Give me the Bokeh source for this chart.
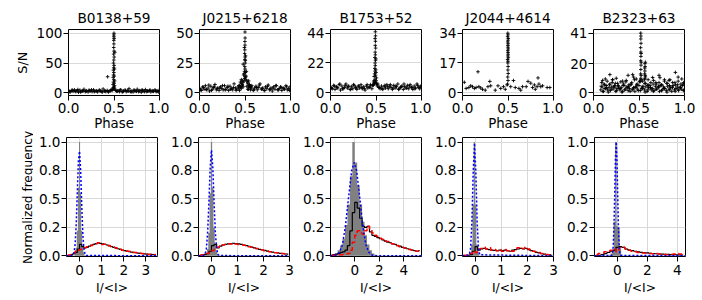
import math
from bokeh.plotting import figure
from bokeh.layouts import row, column
from bokeh.models import Range1d, Label, PrintfTickFormatter
from bokeh.embed import file_html
from bokeh.resources import INLINE

FONT = "DejaVu Sans"
GRID = "#d9d9d9"

names = ["B0138+59", "J0215+6218", "B1753+52", "J2044+4614", "B2323+63"]

# ---------------- top row: S/N versus phase ----------------
sn_ticks = [[0, 50, 100], [0, 25, 50], [0, 22, 44], [0, 17, 34], [0, 20, 41]]
sn_ranges = [(-4.5, 106.2), (-2.25, 53.1), (-1.98, 46.7), (-1.53, 36.1), (-1.85, 43.5)]
phase_ticks = [0.0, 0.5, 1.0]

base_phase = [0.005, 0.02, 0.035, 0.05, 0.065, 0.08, 0.095, 0.11, 0.125, 0.14, 0.155, 0.17, 0.185, 0.2, 0.215,
              0.23, 0.245, 0.26, 0.275, 0.29, 0.305, 0.32, 0.335, 0.35, 0.365, 0.38, 0.395, 0.41, 0.425, 0.44,
              0.455, 0.47, 0.48, 0.52, 0.53, 0.545, 0.56, 0.575, 0.59, 0.605, 0.62, 0.635, 0.65, 0.665, 0.68,
              0.695, 0.71, 0.725, 0.74, 0.755, 0.77, 0.785, 0.8, 0.815, 0.83, 0.845, 0.86, 0.875, 0.89, 0.905,
              0.92, 0.935, 0.95, 0.965, 0.98, 0.995]
mid_phase = [0.0125, 0.0425, 0.0725, 0.1025, 0.1325, 0.1625, 0.1925, 0.2225, 0.2525, 0.2825, 0.3125, 0.3425,
             0.3725, 0.4025, 0.4325, 0.4625, 0.5375, 0.5675, 0.5975, 0.6275, 0.6575, 0.6875, 0.7175, 0.7475,
             0.7775, 0.8075, 0.8375, 0.8675, 0.8975, 0.9275, 0.9575, 0.9875]

b0138_base_sn = [3.0, 1.5, 4.0, 2.5, 5.0, 2.0, 3.5, 1.0, 4.5, 2.5, 3.0, 6.0, 2.0, 3.5, 1.5, 4.0, 3.0, 2.0, 5.0, 2.5,
                 3.5, 1.5, 4.0, 3.0, 2.0, 6.5, 3.0, 2.0, 4.0, 1.5, 3.0, 5.0, 4.0,
                 4.0, 2.5, 3.5, 2.0, 5.0, 1.5, 3.0, 4.5, 2.0, 3.5, 7.0, 2.5, 3.0, 1.5, 4.0, 3.0, 6.0, 2.0, 3.5,
                 1.0, 4.0, 2.5, 5.5, 2.0, 3.0, 4.0, 1.5, 3.5, 2.5, 5.0, 2.0, 3.0, 4.0]
b0138_mid_sn = [2.0, 4.5, 3.0, 5.5, 1.5, 3.5, 2.5, 4.0, 5.0, 2.0, 3.0, 4.5, 1.5, 3.5, 2.5, 4.0,
                3.0, 5.0, 2.0, 4.0, 3.0, 1.5, 4.5, 2.5, 3.5, 5.0, 2.0, 3.0, 4.5, 2.5, 3.5, 1.5]
b0138_spike_ph = [0.488, 0.492, 0.496, 0.5, 0.504, 0.508, 0.49, 0.494, 0.498, 0.502, 0.506, 0.491, 0.495, 0.499,
                  0.503, 0.493, 0.497, 0.501, 0.505, 0.494, 0.498, 0.502, 0.496, 0.5, 0.497, 0.499, 0.498, 0.43,
                  0.509, 0.507, 0.499, 0.5, 0.498, 0.501]
b0138_spike_sn = [6, 9, 7, 10, 8, 6, 14, 18, 22, 16, 12, 26, 30, 34, 28, 38, 42, 46, 40, 50, 55, 60, 65, 70, 76,
                  82, 88, 27, 68, 20, 94, 100, 97, 91]

j0215_base_sn = [3.5, 2.0, 5.0, 3.0, 6.0, 2.5, 4.0, 1.5, 5.5, 3.0, 4.5, 7.0, 2.5, 4.0, 2.0, 5.0, 3.5, 2.5, 6.0, 3.0,
                 4.5, 2.0, 5.5, 3.5, 2.5, 7.5, 4.0, 3.0, 5.0, 2.0, 4.0, 6.0, 5.0,
                 5.5, 3.0, 4.5, 2.5, 6.0, 2.0, 4.0, 5.5, 2.5, 4.5, 7.5, 3.0, 4.0, 2.0, 5.0, 3.5, 6.5, 2.5, 4.0,
                 1.5, 5.0, 3.0, 6.0, 2.5, 3.5, 5.0, 2.0, 4.0, 3.0, 6.0, 2.5, 3.5, 5.0]
j0215_mid_sn = [2.5, 4.5, 3.0, 6.5, 2.0, 5.0, 3.5, 4.0, 6.0, 2.5, 5.5, 3.0, 4.5, 2.0, 6.0, 4.0,
                3.0, 5.0, 2.5, 4.5, 6.5, 3.5, 2.0, 5.5, 3.0, 4.0, 6.0, 2.5, 4.5, 3.5, 5.0, 2.0]
j0215_spike_ph = [0.43, 0.44, 0.45, 0.46, 0.47, 0.48, 0.52, 0.53, 0.54, 0.55, 0.56, 0.57, 0.45, 0.47, 0.53, 0.55,
                  0.46, 0.54,
                  0.49, 0.495, 0.5, 0.505, 0.51, 0.49, 0.495, 0.5, 0.505, 0.497, 0.502, 0.499, 0.501, 0.496,
                  0.503, 0.498, 0.5, 0.499, 0.501, 0.5, 0.48, 0.515, 0.485, 0.512, 0.494, 0.506]
j0215_spike_sn = [4, 6, 5, 8, 7, 9, 10, 8, 6, 7, 5, 4, 9, 10, 9, 6, 11, 10,
                  10, 12, 14, 13, 11, 16, 18, 20, 17, 22, 25, 28, 30, 33, 27, 36, 40, 43, 46, 51, 24, 18, 15,
                  14, 38, 31]

b1753_base_sn = [4.0, 3.0, 5.5, 2.5, 4.5, 3.5, 6.0, 2.0, 5.0, 3.0, 4.0, 6.5, 3.5, 5.0, 2.5, 4.5, 3.0, 5.5, 4.0, 2.5,
                 5.0, 3.5, 6.0, 3.0, 4.5, 2.0, 5.0, 3.5, 4.0, 6.0, 3.0, 5.5, 7.0,
                 6.5, 4.0, 3.0, 5.0, 2.5, 4.5, 3.5, 6.0, 3.0, 5.0, 4.0, 2.5, 5.5, 3.5, 4.5, 6.5, 3.0, 4.0, 5.0,
                 2.5, 4.5, 3.5, 5.5, 3.0, 6.0, 4.0, 2.5, 5.0, 3.5, 6.5, 4.0, 3.0, 5.0]
b1753_mid_sn = [3.5, 5.0, 4.0, 6.5, 3.0, 5.5, 4.5, 2.5, 6.0, 3.5, 5.0, 4.0, 3.0, 6.0, 4.5, 5.5,
                4.0, 3.0, 5.5, 4.5, 6.0, 3.5, 5.0, 2.5, 4.5, 6.5, 3.5, 5.0, 4.0, 3.0, 5.5, 4.5]
b1753_spike_ph = [0.47, 0.475, 0.48, 0.485, 0.49, 0.495, 0.5, 0.505, 0.51, 0.515, 0.48, 0.485, 0.49, 0.495, 0.5,
                  0.505, 0.487, 0.492, 0.497, 0.49, 0.495, 0.488, 0.493, 0.498, 0.491, 0.496, 0.492, 0.494, 0.49,
                  0.495, 0.493]
b1753_spike_sn = [6, 8, 9, 7, 10, 8, 9, 7, 6, 5, 12, 14, 16, 13, 15, 11, 18, 20, 17, 22, 24, 26, 28, 25, 30, 33,
                  35, 38, 40, 42, 45]

j2044_ph = [0.02, 0.04, 0.07, 0.09, 0.11, 0.13, 0.15, 0.17, 0.18, 0.20, 0.22, 0.25, 0.28, 0.30, 0.31, 0.36, 0.39,
            0.42, 0.45, 0.47, 0.49, 0.53, 0.56, 0.58, 0.62, 0.64, 0.66, 0.70, 0.72, 0.75, 0.77, 0.79, 0.80, 0.82,
            0.83, 0.84, 0.86, 0.88, 0.93, 0.96]
j2044_sn = [6.0, 2.5, 3.0, 4.0, 3.5, 2.5, 3.0, 12.0, 3.5, 2.8, 2.0, 1.5, 3.5, 6.5, 4.0, 1.5, 4.0, 2.5, 3.5, 2.0,
            4.5, 3.5, 7.0, 3.0, 2.5, 1.5, 3.5, 3.5, 6.5, 5.5, 3.0, 4.5, 2.0, 3.5, 8.5, 5.0, 3.5, 4.0, 3.0, 3.0]
j2044_spike_ph = [0.495, 0.5, 0.497, 0.502, 0.499, 0.501, 0.498, 0.5, 0.496, 0.503, 0.499, 0.501, 0.5, 0.498,
                  0.502, 0.5, 0.499, 0.501, 0.497, 0.5, 0.503, 0.496, 0.5, 0.498]
j2044_spike_sn = [5, 7, 9, 11, 13, 15, 17, 18, 19, 20, 21, 22, 23, 24, 25, 26, 27, 28, 29, 30, 31, 32, 33, 34]

b2323_ph_a = [0.08, 0.095, 0.11, 0.125, 0.14, 0.155, 0.17, 0.185, 0.2, 0.215, 0.23, 0.245, 0.26, 0.275, 0.29,
              0.305, 0.32, 0.335, 0.35, 0.365, 0.38, 0.395, 0.41, 0.425, 0.44, 0.455, 0.47, 0.485, 0.5, 0.515,
              0.53, 0.545, 0.56, 0.575, 0.59, 0.605, 0.62, 0.635, 0.65, 0.665, 0.68, 0.695, 0.71, 0.725, 0.74,
              0.755, 0.77, 0.785, 0.8, 0.815, 0.83, 0.845, 0.86, 0.875, 0.89, 0.905, 0.92, 0.935, 0.95, 0.965,
              0.98, 0.995]
b2323_sn_a = [2, 4, 1, 3, 5, 2, 3.5, 1.5, 4, 2.5, 5, 1, 3, 4.5, 2, 3.5, 1, 5, 2.5, 4, 1.5, 3, 5.5, 2, 3.5, 1, 4,
              2.5, 5, 1.5, 3, 4.5, 2, 4, 1, 3.5, 5, 2, 3, 1.5, 4.5, 2.5, 3.5, 1, 5, 2, 4, 3, 1.5, 4.5, 2.5, 3.5,
              1, 5, 2, 3, 4, 1.5, 3.5, 2.5, 5, 2]
b2323_ph_b = [0.09, 0.12, 0.15, 0.18, 0.21, 0.24, 0.27, 0.3, 0.33, 0.36, 0.39, 0.42, 0.45, 0.48, 0.51, 0.54, 0.57,
              0.6, 0.63, 0.66, 0.69, 0.72, 0.75, 0.78, 0.81, 0.84, 0.87, 0.9, 0.93, 0.96, 0.99]
b2323_sn_b = [7, 5.5, 8, 6, 9, 6.5, 5, 7.5, 6, 8.5, 5.5, 7, 9, 6, 7.5, 8, 6.5, 5.5, 7, 8.5, 6, 7, 5.5, 8, 6.5, 9,
              7, 5.5, 8, 6, 7]
b2323_ph_c = [0.1025, 0.1325, 0.1625, 0.1925, 0.2225, 0.2525, 0.2825, 0.3125, 0.3425, 0.3725, 0.4025, 0.4325,
              0.4625, 0.4925, 0.5375, 0.5675, 0.5975, 0.6275, 0.6575, 0.6875, 0.7175, 0.7475, 0.7775, 0.8075,
              0.8375, 0.8675, 0.8975, 0.9275, 0.9575, 0.9875]
b2323_sn_c = [1, 3, 0.5, 2.5, 4, 1.5, 3, 0.5, 2, 3.5, 1, 2.5, 4, 1.5, 3, 0.5, 2, 3.5, 1, 2.5, 4, 1.5, 3, 0.5, 2,
              3.5, 1, 2.5, 4, 1.5]
b2323_ph_d = [0.085, 0.115, 0.145, 0.175, 0.205, 0.235, 0.265, 0.295, 0.325, 0.355, 0.385, 0.415, 0.445, 0.475,
              0.505, 0.535, 0.565, 0.595, 0.625, 0.655, 0.685, 0.715, 0.745, 0.775, 0.805, 0.835, 0.865, 0.895,
              0.925, 0.955, 0.985]
b2323_sn_d = [4.5, 6, 3.5, 5.5, 7, 4, 6.5, 3, 5, 7.5, 4.5, 6, 3.5, 5.5, 8, 4, 6.5, 5, 3.5, 6, 7, 4.5, 5.5, 3, 6.5,
              5, 4, 7, 5.5, 3.5, 6]
b2323_out_ph = [0.1, 0.13, 0.18, 0.21, 0.25, 0.32, 0.38, 0.43, 0.44, 0.47, 0.6, 0.65, 0.72, 0.73, 0.78, 0.83, 0.9,
                0.93, 0.97]
b2323_out_sn = [8.5, 9.5, 12.5, 9, 10, 8, 12, 12.5, 10.8, 9.5, 9, 10.5, 12, 10.4, 9, 8.5, 14, 10.8, 9.5]
b2323_spike_ph = [0.515, 0.52, 0.525, 0.518, 0.523, 0.52, 0.522, 0.519, 0.524, 0.521, 0.52, 0.523, 0.518, 0.522,
                  0.52, 0.521, 0.519, 0.56, 0.565, 0.57, 0.562, 0.568, 0.565, 0.563, 0.567, 0.565, 0.57]
b2323_spike_sn = [8, 10, 9, 13, 12, 16, 19, 22, 21, 25, 28, 27, 31, 34, 37, 39, 41, 9, 10, 11, 13, 12, 15, 17,
                  18, 20, 21]

top_series = [
    [(base_phase, b0138_base_sn), (mid_phase, b0138_mid_sn), (b0138_spike_ph, b0138_spike_sn)],
    [(base_phase, j0215_base_sn), (mid_phase, j0215_mid_sn), (j0215_spike_ph, j0215_spike_sn)],
    [(base_phase, b1753_base_sn), (mid_phase, b1753_mid_sn), (b1753_spike_ph, b1753_spike_sn)],
    [(j2044_ph, j2044_sn), (j2044_spike_ph, j2044_spike_sn)],
    [(b2323_ph_a, b2323_sn_a), (b2323_ph_b, b2323_sn_b), (b2323_ph_c, b2323_sn_c), (b2323_ph_d, b2323_sn_d),
     (b2323_out_ph, b2323_out_sn), (b2323_spike_ph, b2323_spike_sn)],
]

# ---------------- bottom row: intensity distributions ----------------
freq_ticks = [0.0, 0.25, 0.5, 0.75, 1.0]
freq_labels = {0.0: "0.0", 0.25: "0.2", 0.5: "0.5", 0.75: "0.8", 1.0: "1.0"}
ratio_ticks = [[0, 1, 2, 3], [0, 1, 2, 3], [0, 2, 4], [0, 1, 2, 3], [0, 2, 4]]
ratio_ranges = [(-0.59, 3.53), (-0.5, 3.0), (-1.98, 5.45), (-0.48, 3.0), (-1.53, 4.55)]
freq_range = (-0.006, 1.04)

# off-pulse histograms (grey): bin edges and normalised counts
off_edges = [
    [-0.225, -0.175, -0.125, -0.075, -0.025, 0.025, 0.075, 0.125, 0.175, 0.225],
    [-0.275, -0.225, -0.175, -0.125, -0.075, -0.025, 0.025, 0.075, 0.125, 0.175, 0.225, 0.275],
    [-1.8, -1.6, -1.4, -1.2, -1.0, -0.8, -0.6, -0.4, -0.2, 0.0, 0.2, 0.4, 0.6, 0.8, 1.0, 1.2, 1.4, 1.6, 1.8],
    [-0.2, -0.15, -0.1, -0.05, 0.0, 0.05, 0.1, 0.15],
    [-0.55, -0.45, -0.35, -0.25, -0.15, -0.05, 0.05, 0.15, 0.25],
]
off_counts = [
    [0.02, 0.07, 0.22, 0.6, 1.0, 0.55, 0.22, 0.09, 0.03],
    [0.01, 0.02, 0.06, 0.2, 0.55, 1.0, 0.6, 0.25, 0.1, 0.04, 0.01],
    [0.01, 0.02, 0.05, 0.09, 0.15, 0.27, 0.45, 0.7, 1.0, 0.82, 0.62, 0.45, 0.3, 0.18, 0.1, 0.05, 0.02, 0.01],
    [0.02, 0.1, 0.45, 1.0, 0.45, 0.1, 0.03],
    [0.01, 0.02, 0.05, 0.3, 1.0, 0.26, 0.25, 0.06],
]

# off-pulse fits (blue dotted)
off_fit_x = [
    [-0.59, -0.3, -0.25, -0.2, -0.15, -0.1, -0.05, 0.0, 0.05, 0.1, 0.15, 0.2, 0.25, 0.3, 3.53],
    [-0.5, -0.3, -0.25, -0.2, -0.15, -0.1, -0.05, 0.0, 0.05, 0.1, 0.15, 0.2, 0.25, 0.3, 3.0],
    [-1.98, -1.5, -1.25, -1.0, -0.75, -0.5, -0.25, -0.05, 0.15, 0.4, 0.65, 0.9, 1.15, 1.4, 1.7, 5.45],
    [-0.48, -0.22, -0.17, -0.12, -0.07, -0.02, 0.03, 0.08, 0.13, 0.18, 3.0],
    [-1.53, -0.38, -0.33, -0.28, -0.23, -0.18, -0.13, -0.08, -0.03, 0.02, 0.07, 0.12, 0.17, 0.22, 4.55],
]
off_fit_y = [
    [0, 0.003, 0.03, 0.1, 0.28, 0.56, 0.84, 0.92, 0.75, 0.44, 0.19, 0.06, 0.016, 0.003, 0],
    [0, 0.002, 0.012, 0.058, 0.2, 0.465, 0.78, 0.93, 0.78, 0.465, 0.2, 0.058, 0.012, 0.002, 0],
    [0, 0.007, 0.032, 0.1, 0.27, 0.52, 0.75, 0.82, 0.75, 0.52, 0.27, 0.1, 0.032, 0.007, 0.001, 0],
    [0, 0.009, 0.069, 0.3, 0.74, 0.99, 0.74, 0.3, 0.069, 0.009, 0],
    [0, 0.004, 0.021, 0.085, 0.25, 0.54, 0.86, 1.0, 0.86, 0.54, 0.25, 0.085, 0.021, 0.004, 0],
]

# on-pulse histograms (black steps) and fitted model (red dashed), bin centres
on_bins = [
    [-0.55, -0.45, -0.35, -0.25, -0.15, -0.05, 0.05, 0.15, 0.25, 0.35, 0.45, 0.55, 0.65, 0.75, 0.85, 0.95, 1.05,
     1.15, 1.25, 1.35, 1.45, 1.55, 1.65, 1.75, 1.85, 1.95, 2.05, 2.15, 2.25, 2.35, 2.45, 2.55, 2.65, 2.75, 2.85,
     2.95, 3.05, 3.15, 3.25, 3.35, 3.45],
    [-0.45, -0.35, -0.25, -0.15, -0.05, 0.05, 0.15, 0.25, 0.35, 0.45, 0.55, 0.65, 0.75, 0.85, 0.95, 1.05, 1.15,
     1.25, 1.35, 1.45, 1.55, 1.65, 1.75, 1.85, 1.95, 2.05, 2.15, 2.25, 2.35, 2.45, 2.55, 2.65, 2.75, 2.85, 2.95],
    [-1.9, -1.7, -1.5, -1.3, -1.1, -0.9, -0.7, -0.5, -0.3, -0.1, 0.1, 0.3, 0.5, 0.7, 0.9, 1.1, 1.3, 1.5, 1.7, 1.9,
     2.1, 2.3, 2.5, 2.7, 2.9, 3.1, 3.3, 3.5, 3.7, 3.9, 4.1, 4.3, 4.5, 4.7, 4.9, 5.1, 5.3],
    [-0.45, -0.35, -0.25, -0.15, -0.05, 0.05, 0.15, 0.25, 0.35, 0.45, 0.55, 0.65, 0.75, 0.85, 0.95, 1.05, 1.15,
     1.25, 1.35, 1.45, 1.55, 1.65, 1.75, 1.85, 1.95, 2.05, 2.15, 2.25, 2.35, 2.45, 2.55, 2.65, 2.75, 2.85, 2.95],
    [-1.4, -1.2, -1.0, -0.8, -0.6, -0.4, -0.2, 0.0, 0.2, 0.4, 0.6, 0.8, 1.0, 1.2, 1.4, 1.6, 1.8, 2.0, 2.2, 2.4,
     2.6, 2.8, 3.0, 3.2, 3.4, 3.6, 3.8, 4.0, 4.2, 4.4],
]
on_hist = [
    [0.003, 0.005, 0.01, 0.02, 0.03, 0.06, 0.1, 0.08, 0.07, 0.075, 0.085, 0.095, 0.1, 0.108, 0.113, 0.11, 0.105,
     0.1, 0.095, 0.088, 0.082, 0.075, 0.068, 0.062, 0.056, 0.05, 0.045, 0.041, 0.037, 0.033, 0.03, 0.027, 0.024,
     0.021, 0.019, 0.017, 0.015, 0.013, 0.012, 0.011, 0.01],
    [0.005, 0.008, 0.012, 0.02, 0.04, 0.09, 0.1, 0.07, 0.085, 0.095, 0.1, 0.105, 0.108, 0.11, 0.108, 0.105, 0.1,
     0.095, 0.09, 0.083, 0.076, 0.07, 0.063, 0.057, 0.052, 0.047, 0.042, 0.037, 0.033, 0.029, 0.025, 0.022, 0.019,
     0.016, 0.014],
    [0.005, 0.01, 0.015, 0.02, 0.03, 0.035, 0.05, 0.09, 0.22, 0.38, 0.47, 0.42, 0.33, 0.26, 0.25, 0.26, 0.21, 0.18,
     0.17, 0.16, 0.15, 0.14, 0.13, 0.12, 0.115, 0.105, 0.1, 0.09, 0.085, 0.075, 0.07, 0.062, 0.056, 0.05, 0.045,
     0.04, 0.045],
    [0.0, 0.003, 0.005, 0.01, 0.04, 0.08, 0.05, 0.06, 0.065, 0.06, 0.055, 0.05, 0.048, 0.045, 0.05, 0.045, 0.05,
     0.045, 0.04, 0.05, 0.055, 0.06, 0.065, 0.06, 0.065, 0.055, 0.045, 0.04, 0.03, 0.025, 0.02, 0.015, 0.01,
     0.008, 0.005],
    [0.003, 0.005, 0.01, 0.02, 0.03, 0.04, 0.05, 0.075, 0.08, 0.075, 0.06, 0.05, 0.045, 0.04, 0.035, 0.03, 0.028,
     0.025, 0.022, 0.02, 0.018, 0.016, 0.015, 0.013, 0.012, 0.011, 0.01, 0.009, 0.008, 0.007],
]
on_model = [
    [0.005, 0.008, 0.012, 0.025, 0.04, 0.05, 0.055, 0.06, 0.07, 0.08, 0.085, 0.09, 0.1, 0.105, 0.115, 0.11, 0.1,
     0.102, 0.09, 0.09, 0.08, 0.078, 0.07, 0.06, 0.058, 0.05, 0.047, 0.04, 0.04, 0.034, 0.03, 0.03, 0.025, 0.022,
     0.02, 0.018, 0.016, 0.012, 0.014, 0.01, 0.012],
    [0.004, 0.007, 0.01, 0.02, 0.03, 0.045, 0.06, 0.075, 0.09, 0.095, 0.1, 0.105, 0.103, 0.11, 0.104, 0.1, 0.1,
     0.092, 0.09, 0.08, 0.078, 0.068, 0.065, 0.056, 0.054, 0.045, 0.043, 0.036, 0.034, 0.028, 0.026, 0.021, 0.02,
     0.015, 0.015],
    [0.005, 0.005, 0.008, 0.01, 0.01, 0.012, 0.015, 0.02, 0.05, 0.12, 0.18, 0.22, 0.2, 0.19, 0.22, 0.26, 0.24, 0.2,
     0.18, 0.17, 0.155, 0.145, 0.13, 0.125, 0.11, 0.105, 0.095, 0.09, 0.08, 0.075, 0.068, 0.06, 0.055, 0.05,
     0.043, 0.04, 0.045],
    [0.002, 0.005, 0.01, 0.02, 0.04, 0.03, 0.06, 0.065, 0.075, 0.06, 0.07, 0.05, 0.055, 0.045, 0.055, 0.04, 0.055,
     0.045, 0.05, 0.04, 0.06, 0.07, 0.075, 0.065, 0.075, 0.06, 0.05, 0.04, 0.035, 0.03, 0.02, 0.02, 0.012, 0.01,
     0.006],
    [0.01, 0.02, 0.02, 0.035, 0.04, 0.05, 0.06, 0.035, 0.07, 0.075, 0.06, 0.05, 0.04, 0.035, 0.03, 0.025, 0.025,
     0.02, 0.02, 0.018, 0.02, 0.015, 0.015, 0.012, 0.01, 0.012, 0.015, 0.02, 0.015, 0.01],
]

# ---------------- layout ----------------
FRAME_W = 91
LABEL_W = 33
lefts = [33, 30, 30, 31, 30]
rights = [10, 10, 10, 10, 20]


def make_fig(L, R, T, B, fh, xr, yr):
    p = figure(frame_width=FRAME_W, frame_height=fh,
               x_range=Range1d(*xr), y_range=Range1d(*yr),
               min_border_left=L, min_border_right=R, min_border_top=T, min_border_bottom=B,
               output_backend="svg", toolbar_location=None, tools="")
    p.outline_line_color = "black"
    p.outline_line_width = 1
    p.outline_line_alpha = 1
    p.background_fill_color = "white"
    p.border_fill_color = "white"
    for ax in (p.xaxis[0], p.yaxis[0]):
        ax.axis_line_color = None
        ax.major_tick_line_color = "black"
        ax.major_tick_line_width = 1
        ax.major_tick_out = 5
        ax.major_tick_in = 0
        ax.minor_tick_line_color = None
        ax.major_label_text_font = FONT
        ax.major_label_text_font_size = "13.6px"
        ax.major_label_text_color = "black"
        ax.axis_label_text_font = FONT
        ax.axis_label_text_font_style = "normal"
        ax.axis_label_text_color = "black"
    p.yaxis.major_label_standoff = 1
    p.xgrid.grid_line_color = GRID
    p.ygrid.grid_line_color = GRID
    return p


top_figs = []
for i in range(5):
    p = make_fig(lefts[i], rights[i], 29, 37, 66, (0.0, 1.0), sn_ranges[i])
    p.title.text = names[i]
    p.title.align = "center"
    p.title.text_font = FONT
    p.title.text_font_size = "13.7px"
    p.title.text_font_style = "normal"
    p.title.text_color = "black"
    p.title.standoff = 8
    p.xaxis.ticker = phase_ticks
    p.xaxis.formatter = PrintfTickFormatter(format="%.1f")
    p.xaxis.major_label_standoff = 2
    p.xaxis.axis_label = "Phase"
    p.xaxis.axis_label_text_font_size = "13.3px"
    p.xaxis.axis_label_standoff = 0
    p.yaxis.ticker = sn_ticks[i]
    p.xgrid.grid_line_color = None
    for ph, sn in top_series[i]:
        p.scatter(ph, sn, marker="cross", size=3.6, line_color="black", line_width=0.9)
    top_figs.append(p)

bottom_figs = []
for i in range(5):
    p = make_fig(lefts[i], rights[i], 4, 44, 119, ratio_ranges[i], freq_range)
    p.xaxis.ticker = ratio_ticks[i]
    p.xaxis.major_label_standoff = 3
    p.xaxis.axis_label = "I/<I>"
    p.xaxis.axis_label_text_font_size = "12.3px"
    p.xaxis.axis_label_standoff = 3
    p.yaxis.ticker = freq_ticks
    p.yaxis.major_label_overrides = freq_labels
    edges = off_edges[i]
    p.varea_step(x=edges, y1=[0.0] * len(edges), y2=off_counts[i] + [0.0], step_mode="after",
                 fill_color="#808080")
    p.step(on_bins[i], on_hist[i], mode="center", line_color="black", line_width=1.2)
    p.step(on_bins[i], on_model[i], mode="center", line_color="red", line_width=1.5, line_dash="5 3")
    p.line(off_fit_x[i], off_fit_y[i], line_color="blue", line_width=1.5, line_dash="2 2")
    bottom_figs.append(p)

# strip holding the two shared y-axis titles
lab = figure(frame_width=LABEL_W, frame_height=298, x_range=Range1d(0, LABEL_W), y_range=Range1d(298, 0),
             min_border_left=0, min_border_right=0, min_border_top=0, min_border_bottom=0,
             x_axis_location=None, y_axis_location=None,
             output_backend="svg", toolbar_location=None, tools="")
lab.outline_line_color = None
lab.xgrid.visible = False
lab.ygrid.visible = False
lab.add_layout(Label(x=22.0, y=62.2, text="S/N", angle=math.pi / 2, text_align="center",
                     text_baseline="alphabetic", text_font=FONT, text_font_size="12.8px", text_color="black"))
lab.add_layout(Label(x=27.5, y=197.0, text="Normalized frequency", angle=math.pi / 2, text_align="center",
                     text_baseline="alphabetic", text_font=FONT, text_font_size="12.1px", text_color="black"))

layout = row(lab, column(row(*top_figs, spacing=0), row(*bottom_figs, spacing=0), spacing=0), spacing=0)
open("out.html", "w").write(file_html(layout, INLINE))
